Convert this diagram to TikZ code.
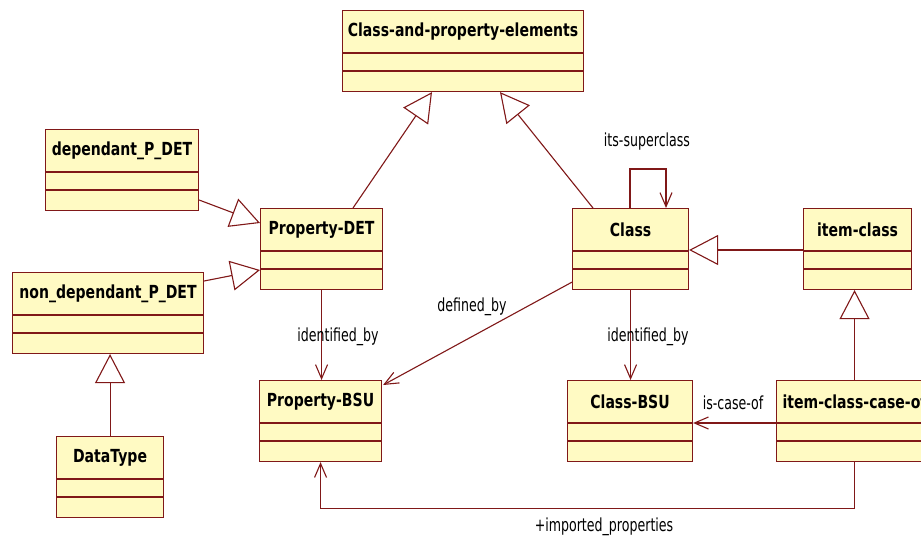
\documentclass[tikz,border=0pt]{standalone}
\usepackage{fontspec}
\setmainfont{DejaVu Sans}[FakeStretch=0.78]
\newfontfamily\lblfont{DejaVu Sans}[FakeStretch=0.7]
\usetikzlibrary{arrows.meta,calc}
\definecolor{umlfill}{RGB}{255,250,195}
\definecolor{umlline}{RGB}{128,24,24}
\tikzset{
  umlbox/.style={draw=umlline, fill=umlfill, line width=1.1pt, minimum height=81pt, inner sep=0pt, anchor=north west, rectangle},
  umltitle/.style={font=\fontsize{18}{20}\selectfont\bfseries, inner sep=0pt, text=black},
  conn/.style={draw=umlline, line width=1.1pt},
  gen/.style={conn, -{Triangle[open,length=29pt,width=30pt]}},
  nav/.style={conn, -{Straight Barb[length=14pt,width=12pt]}},
  lbl/.style={font=\lblfont\fontsize{18}{20}\selectfont, inner sep=0pt, text=black},
}
\newcommand{\umlclass}[5]{%
  \node[umlbox, minimum width=#4pt] (#1) at (#2,#3) {};
  \node[umltitle] (#1-t) at ($(#1.north)+(0,21.5)$) {#5};
  \draw[umlline, line width=1.1pt] ($(#1.north west)+(0,43)$) -- ($(#1.north east)+(0,43)$);
  \draw[umlline, line width=1.1pt] ($(#1.north west)+(0,61)$) -- ($(#1.north east)+(0,61)$);
}
\begin{document}
\begin{tikzpicture}[x=1pt,y=-1pt]
\fill[white] (0,0) rectangle (921,541);
\useasboundingbox (0,0) rectangle (921,541);
\clip (0,0) rectangle (921,541);
\umlclass{cpe}{342}{10}{241}{Class-and-property-elements}
\umlclass{dep}{45}{129}{153}{dependant\_P\_DET}
\umlclass{pdet}{260}{208}{122}{Property-DET}
\umlclass{nondep}{12}{272}{191}{non\_dependant\_P\_DET}
\umlclass{dt}{56}{436}{107}{DataType}
\umlclass{cls}{572}{208}{116}{Class}
\umlclass{ic}{803}{208}{108}{item-class}
\umlclass{pbsu}{259}{380}{122}{Property-BSU}
\umlclass{cbsu}{567}{380}{125}{Class-BSU}
\umlclass{icco}{776}{380}{156}{item-class-case-of}
% generalizations
\draw[gen] ($(pdet.north west)+(93,0)$) -- ($(cpe.south west)+(90,0)$);
\draw[gen] ($(cls.north west)+(21,0)$) -- ($(cpe.south west)+(158,0)$);
\draw[gen] ($(dep.north east)+(0,71)$) -- ($(pdet.north west)+(0,15)$);
\draw[gen] ($(nondep.north east)+(0,9)$) -- ($(pdet.north west)+(0,62)$);
\draw[gen] (dt.north) -- (dt.north |- nondep.south);
\draw[gen] ($(ic.north west)+(0,42)$) -- ($(cls.north east)+(0,42)$);
\draw[gen] (icco.north) -- (icco.north |- ic.south);
% associations
\draw[nav] ($(cls.north west)+(58,0)$) -- ++(0,-39) -- ++(36,0) -- ($(cls.north west)+(94,0)$);
\node[lbl] (l-sup) at (647,142) {its-superclass};
\draw[nav] (pdet.south) -- (pdet.south |- pbsu.north);
\node[lbl] (l-id1) at (338,337) {identified\_by};
\draw[nav] (cls.south) -- (cls.south |- cbsu.north);
\node[lbl] (l-id2) at (648,337) {identified\_by};
\draw[nav] ($(cls.south west)+(0,-8)$) -- ($(pbsu.north east)+(1,5)$);
\node[lbl] (l-def) at (472,307) {defined\_by};
\draw[nav] ($(icco.north west)+(0,43)$) -- ($(cbsu.north east)+(0,43)$);
\node[lbl] (l-case) at (733,403) {is-case-of};
\draw[nav] (icco.south) -- ++(0,46) -| (pbsu.south);
\node[lbl] (l-imp) at (604,527) {+imported\_properties};
\end{tikzpicture}
\end{document}
